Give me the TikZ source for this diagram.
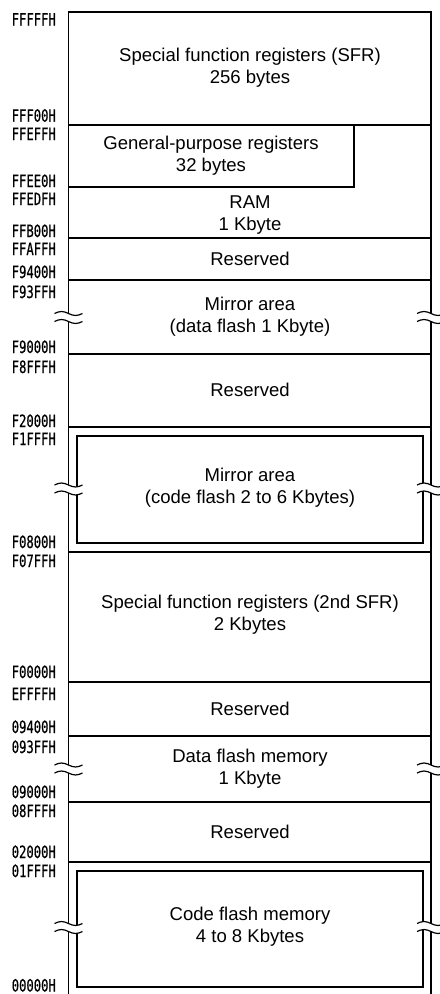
\documentclass[tikz,border=0pt]{standalone}
\usepackage{fontspec}
\setmainfont{Liberation Sans}
\newfontfamily\addrfont[FakeStretch=0.72,FakeBold=0.6]{DejaVu Sans Mono}
\newcommand\brkmark[2]{%
  \fill[white] (#1-14,#2-4) sin (#1-7,#2-6) cos (#1,#2-4) sin (#1+7,#2-2) cos (#1+14,#2-4)
     -- (#1+14,#2+4) sin (#1+7,#2+6) cos (#1,#2+4) sin (#1-7,#2+2) cos (#1-14,#2+4) -- cycle;
  \draw[wave] (#1-14,#2-4) sin (#1-7,#2-6) cos (#1,#2-4) sin (#1+7,#2-2) cos (#1+14,#2-4);
  \draw[wave] (#1-14,#2+4) sin (#1-7,#2+2) cos (#1,#2+4) sin (#1+7,#2+6) cos (#1+14,#2+4);
}
\tikzset{
  outline/.style={line width=1.8bp},
  innerline/.style={line width=1.3bp},
  wave/.style={line width=1.2bp},
  memtext/.style={align=center, inner sep=0pt, font=\fontsize{18.6}{22}\selectfont},
  addr/.style={anchor=base east, inner sep=0pt, font=\addrfont\fontsize{17}{17}\selectfont},
}
\begin{document}
\begin{tikzpicture}[x=1bp,y=-1bp]
\useasboundingbox[fill=white] (0,0) rectangle (440,994);
% outer frame
\draw[outline] (68.5,1000) -- (68.5,12) -- (431,12) -- (431,1000);
% dividers
\foreach \yy in {125,238,280,354,427,552,682,736,802,862}
  \draw[outline] (68.5,\yy) -- (431,\yy);
% general-purpose register box
\draw[outline] (68.5,187) -- (354,187) -- (354,125);
% inner boxes
\draw[innerline] (77,436) rectangle (423,543);
\draw[innerline] (77,871) rectangle (423,987);
% break marks
\brkmark{68.5}{317.5}
\brkmark{431}{317.5}
\brkmark{68.5}{489}
\brkmark{431}{489}
\brkmark{68.5}{769}
\brkmark{431}{769}
\brkmark{68.5}{927.5}
\brkmark{431}{927.5}
% texts
\node[memtext] (sfr) at (250,68) {Special function registers (SFR)\\256 bytes};
\node[memtext] (gpr) at (211,156) {General-purpose registers\\32 bytes};
\node[memtext] (ram) at (250,215) {RAM\\1 Kbyte};
\node[memtext] (res1) at (250,259) {Reserved};
\node[memtext] (mir1) at (250,317) {Mirror area\\(data flash 1 Kbyte)};
\node[memtext] (res2) at (250,390) {Reserved};
\node[memtext] (mir2) at (250,488) {Mirror area\\(code flash 2 to 6 Kbytes)};
\node[memtext] (sfr2) at (250,615) {Special function registers (2nd SFR)\\2 Kbytes};
\node[memtext] (res3) at (250,709) {Reserved};
\node[memtext] (dfl) at (250,769) {Data flash memory\\1 Kbyte};
\node[memtext] (res4) at (250,832) {Reserved};
\node[memtext] (cfl) at (250,927) {Code flash memory\\4 to 8 Kbytes};
% addresses
\node[addr] (a1) at (56,25.5) {FFFFFH};
\node[addr] (a2) at (56,121.7) {FFF00H};
\node[addr] (a3) at (56,140) {FFEFFH};
\node[addr] (a4) at (56,187) {FFEE0H};
\node[addr] (a5) at (56,205) {FFEDFH};
\node[addr] (a6) at (56,237) {FFB00H};
\node[addr] (a7) at (56,255) {FFAFFH};
\node[addr] (a8) at (56,278) {F9400H};
\node[addr] (a9) at (56,298) {F93FFH};
\node[addr] (a10) at (56,353) {F9000H};
\node[addr] (a11) at (56,373) {F8FFFH};
\node[addr] (a12) at (56,427) {F2000H};
\node[addr] (a13) at (56,445) {F1FFFH};
\node[addr] (a14) at (56,548) {F0800H};
\node[addr] (a15) at (56,567) {F07FFH};
\node[addr] (a16) at (56,678) {F0000H};
\node[addr] (a17) at (56,700) {EFFFFH};
\node[addr] (a18) at (56,733) {09400H};
\node[addr] (a19) at (56,753) {093FFH};
\node[addr] (a20) at (56,798) {09000H};
\node[addr] (a21) at (56,817) {08FFFH};
\node[addr] (a22) at (56,858) {02000H};
\node[addr] (a23) at (56,877) {01FFFH};
\node[addr] (a24) at (56,991.5) {00000H};
\end{tikzpicture}
\end{document}
